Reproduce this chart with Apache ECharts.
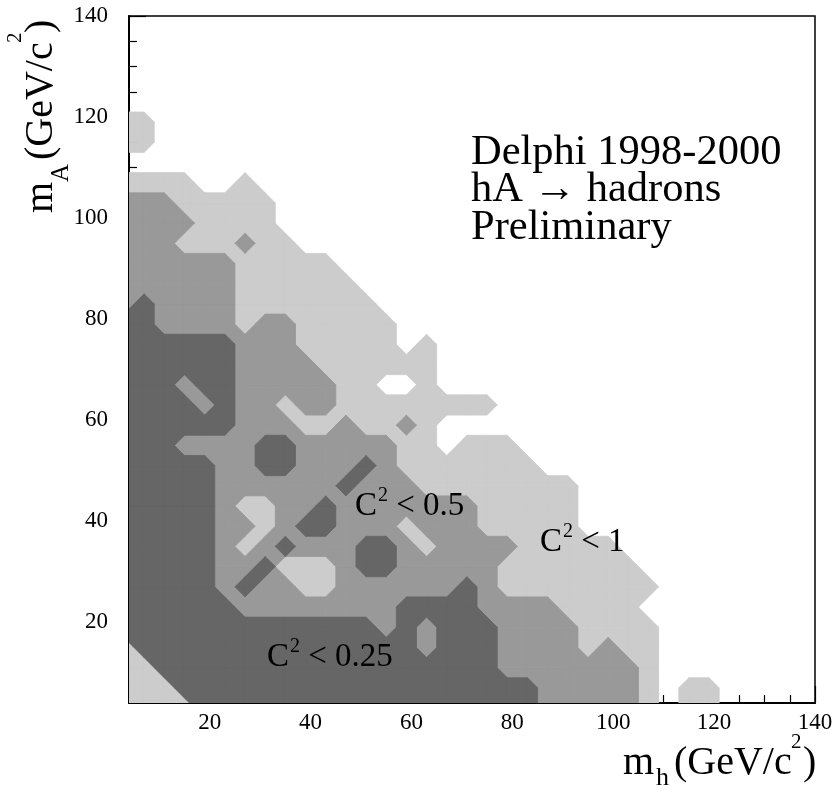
<!DOCTYPE html>
<html><head><meta charset="utf-8">
<script src="https://cdn.jsdelivr.net/npm/echarts@6/dist/echarts.min.js"></script>
<style>html,body{margin:0;padding:0;background:#fff}#c{width:837px;height:791px}</style>
</head><body><div id="c"></div>
<script>
// Grid nodes (GeV/c^2) of the contour map
const nodeX = [3,7,11,15,19,23,27,31,35,39,43,47,51,55,59,63,67,71,75,79,83,87,91,95,99,103,107,111,115,119,123,127,131,135,139];
const nodeY = [3,7,11,15,19,23,27,31,35,39,43,47,51,55,59,63,67,71,75,79,83,87,91,95,99,103,107,111,115,119,123,127,131,135,139];
// Contour level at each node, rows from top (mA=139) to bottom (mA=3)
// 0: none, 1: C^2<1, 2: C^2<0.5, 3: C^2<0.25
const levelRows = [
"00000000000000000000000000000000000",
"00000000000000000000000000000000000",
"00000000000000000000000000000000000",
"00000000000000000000000000000000000",
"00000000000000000000000000000000000",
"11000000000000000000000000000000000",
"11000000000000000000000000000000000",
"00000000000000000000000000000000000",
"11110010000000000000000000000000000",
"22211111000000000000000000000000000",
"22221111000000000000000000000000000",
"22211121100000000000000000000000000",
"22222211111000000000000000000000000",
"22222211111100000000000000000000000",
"23222211111110000000000000000000000",
"33222212211111000000000000000000000",
"33333322211111010000000000000000000",
"33333322221111110000000000000000000",
"33323322222110010000000000000000000",
"33332322122111111110000000000000000",
"33333322211211210000000000000000000",
"33322223322222110111000000000000000",
"33333223322232111111100000000000000",
"33333222222322211111111000000000000",
"33333211223222222211111000000000000",
"33333221233222122211111000000000000",
"33333212322233212222111110000000000",
"33333223111233222221111111000000000",
"33333232211222222321111111100000000",
"33333322222222333322221111000000000",
"33333333333332323332222111100000000",
"13333333333333323332222121100000000",
"11333333333333333332222222100000000",
"11133333333333333333322222101100000",
"11113333333333333333322222101100000"
];
// cells (lower-left node) where diagonal corners of equal level are joined (narrow diagonal bars)
const joinedCells = [[27, 27], [47, 47]];
const levelColors = ['#cccccc', '#999999', '#666666'];
const levelNames = ['C\u00b2 < 1', 'C\u00b2 < 0.5', 'C\u00b2 < 0.25'];
const majorTicks = [20, 40, 60, 80, 100, 120, 140];
const minorTicks = [5, 10, 15, 25, 30, 35, 45, 50, 55, 65, 70, 75, 85, 90, 95, 105, 110, 115, 125, 130, 135];
const axisMin = 4, axisMax = 140;

const NX = nodeX.length, NY = nodeY.length;
function level(k, j) {
  const row = levelRows[NY - 1 - j];
  const c = row ? row.charAt(k) : '';
  return c ? +c : 0;
}
function isJoined(x, y) {
  return joinedCells.some(function (c) { return c[0] === x && c[1] === y; }) ? 1 : 0;
}
const cells = [];
for (let j = 0; j < NY - 1; j++) {
  for (let k = 0; k < NX - 1; k++) {
    const l = [level(k, j), level(k + 1, j), level(k + 1, j + 1), level(k, j + 1)];
    if (Math.max.apply(null, l) > 0) {
      cells.push([nodeX[k], nodeY[j], nodeX[k + 1], nodeY[j + 1], l[0], l[1], l[2], l[3], isJoined(nodeX[k], nodeY[j])]);
    }
  }
}

function makeLevelSeries(t) {
  return {
    type: 'custom', name: levelNames[t - 1],
    coordinateSystem: 'cartesian2d', xAxisIndex: 0, yAxisIndex: 0,
    clip: true, silent: true, z: 2,
    encode: { x: 0, y: 1 },
    data: cells,
    renderItem: function (params, api) {
      const x0 = api.value(0), y0 = api.value(1), x1 = api.value(2), y1 = api.value(3);
      const lv = [api.value(4), api.value(5), api.value(6), api.value(7)];
      const joined = api.value(8) === 1;
      const corners = [[x0, y0], [x1, y0], [x1, y1], [x0, y1]];
      function mid(a, b) { return api.coord([(corners[a][0] + corners[b][0]) / 2, (corners[a][1] + corners[b][1]) / 2]); }
      const children = [];
      const col = levelColors[t - 1];
      function poly(pts) {
        children.push({ type: 'polygon', shape: { points: pts },
          style: { fill: col, stroke: col, lineWidth: 0.8 } });
      }
      const ins = lv.map(function (v) { return v >= t; });
      const cnt = ins.filter(Boolean).length;
      if (cnt === 0) return null;
      if (cnt === 2 && ins[0] === ins[2] && !joined) {
        for (let c = 0; c < 4; c++) {
          if (ins[c]) poly([api.coord(corners[c]), mid(c, (c + 1) % 4), mid((c + 3) % 4, c)]);
        }
      } else {
        const pts = [];
        for (let c = 0; c < 4; c++) {
          const n = (c + 1) % 4;
          if (ins[c]) pts.push(api.coord(corners[c]));
          if (ins[c] !== ins[n]) pts.push(mid(c, n));
        }
        if (pts.length >= 3) poly(pts);
      }
      return { type: 'group', children: children };
    }
  };
}

const FONT = 'Liberation Serif';
function txt(str, x, baseline, fs) {
  return { type: 'text', z: 100, x: x, y: baseline - 0.3375 * fs,
    style: { text: str, fontFamily: FONT, fontSize: fs, fill: '#000', align: 'left', verticalAlign: 'middle' } };
}
function c2label(x, baseline, rest) {
  return [txt('C', x, baseline, 33), txt('2', x + 23, baseline - 15, 20), txt(rest, x + 33, baseline, 33)];
}

const chart = echarts.init(document.getElementById('c'), null, { renderer: 'canvas' });
const tickStyle = { color: '#000', width: 1.2 };
const option = {
  animation: false,
  backgroundColor: '#fff',
  grid: { left: 129, right: 22, top: 16, bottom: 88, show: true, borderColor: '#000', borderWidth: 1.5, backgroundColor: 'transparent' },
  xAxis: [
    { type: 'value', min: axisMin, max: axisMax, position: 'bottom',
      axisLine: { show: true, onZero: false, lineStyle: { color: '#000', width: 2 } },
      axisTick: { show: true, inside: true, length: 17, customValues: majorTicks, lineStyle: tickStyle },
      axisLabel: { show: true, customValues: majorTicks, margin: 8, fontFamily: FONT, fontSize: 23, color: '#000' },
      splitLine: { show: false } },
    { type: 'value', min: axisMin, max: axisMax, position: 'bottom',
      axisLine: { show: false },
      axisTick: { show: true, inside: true, length: 8, customValues: minorTicks, lineStyle: tickStyle },
      axisLabel: { show: false }, splitLine: { show: false } }
  ],
  yAxis: [
    { type: 'value', min: axisMin, max: axisMax, position: 'left',
      axisLine: { show: true, onZero: false, lineStyle: { color: '#000', width: 2 } },
      axisTick: { show: true, inside: true, length: 17, customValues: majorTicks, lineStyle: tickStyle },
      axisLabel: { show: true, customValues: majorTicks, margin: 21, fontFamily: FONT, fontSize: 23, color: '#000' },
      splitLine: { show: false } },
    { type: 'value', min: axisMin, max: axisMax, position: 'left',
      axisLine: { show: false },
      axisTick: { show: true, inside: true, length: 8, customValues: minorTicks, lineStyle: tickStyle },
      axisLabel: { show: false }, splitLine: { show: false } }
  ],
  series: [makeLevelSeries(1), makeLevelSeries(2), makeLevelSeries(3)],
  graphic: [
    txt('Delphi 1998-2000', 471, 167, 42.5),
    txt('hA \u2192 hadrons', 471, 204, 42.5),
    txt('Preliminary', 471, 242, 42.5)
  ].concat(c2label(355, 517, ' < 0.5'))
   .concat(c2label(540, 553, ' < 1'))
   .concat(c2label(267, 668, ' < 0.25'))
   .concat([
    txt('m', 623, 777, 40), txt('h', 656, 787, 26), txt('(GeV/c', 674, 777, 40), txt('2', 791, 750, 21), txt(')', 803, 777, 40),
    { type: 'group', x: 55, y: 213, rotation: Math.PI / 2, z: 100, children: [
      txt('m', 0, 0, 40), txt('A', 31, 15, 25), txt('(GeV/c', 53, 0, 40), txt('2', 170, -32, 21), txt(')', 180, 0, 40)
    ] }
  ])
};
chart.setOption(option);
</script>
</body></html>
